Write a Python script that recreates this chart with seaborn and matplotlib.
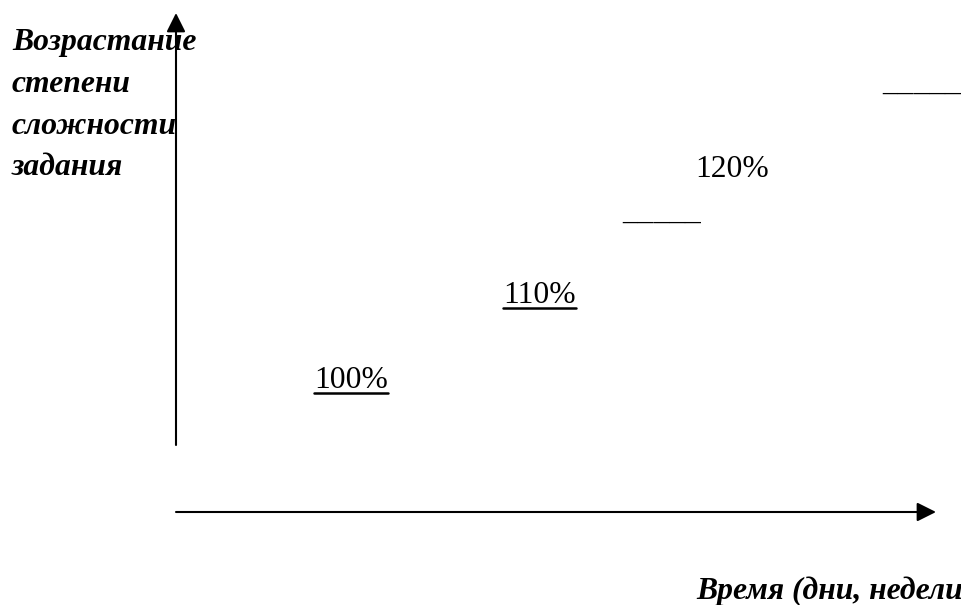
import matplotlib
matplotlib.use("Agg")
import matplotlib.pyplot as plt
import pandas as pd
import seaborn as sns

# labels of the difficulty steps (pixel positions, top-left origin)
levels = ["100%", "110%", "120%"]
level_left = [314, 503, 695]
level_base = [388, 303, 177]
level_underlined = [True, True, False]

# free "_____" blanks
blank_left = [622, 882]
blank_base = [219, 90]

y_title = ["Возрастание", "степени", "сложности", "задания"]
y_title_base = [50, 92, 134, 175]
x_title = "Время (дни, недели"

sns.set_theme(style="white")
plt.rcParams['font.family'] = ['Liberation Serif', 'DejaVu Serif']
plt.rcParams['text.color'] = 'black'

fig = plt.figure(figsize=(9.62, 6.05), dpi=100)
ax = fig.add_axes([0, 0, 1, 1])
ax.set_xlim(0, 962)
ax.set_ylim(605, 0)
ax.axis("off")

fs = 22.8

# axes arrows
arrow = dict(arrowstyle="-|>,head_length=0.8,head_width=0.4", mutation_scale=14.4,
             lw=1.5, color="black", shrinkA=0, shrinkB=0)
ax.annotate("", xy=(176, 13), xytext=(176, 445), arrowprops=arrow)
ax.annotate("", xy=(936, 512), xytext=(176, 512), arrowprops=arrow)

# axis titles
for line, base in zip(y_title, y_title_base):
    ax.text(12, base, line, fontsize=fs, fontweight="bold", fontstyle="italic",
            va="baseline", ha="left", color="black")
ax.text(696, 599, x_title, fontsize=fs, fontweight="bold", fontstyle="italic",
        va="baseline", ha="left", color="black")

# step labels
texts = []
for lab, x, y in zip(levels, level_left, level_base):
    texts.append(ax.text(x, y, lab, fontsize=fs, va="baseline", ha="left", color="black"))
for x, y in zip(blank_left, blank_base):
    ax.text(x, y, "_____", fontsize=fs, va="baseline", ha="left", color="black")

# underlines under the labels
fig.canvas.draw()
renderer = fig.canvas.get_renderer()
rows = []
inv = ax.transData.inverted()
for i, (t, under) in enumerate(zip(texts, level_underlined)):
    if not under:
        continue
    bb = t.get_window_extent(renderer)
    x0 = inv.transform((bb.x0, 0))[0]
    x1 = inv.transform((bb.x1, 0))[0]
    y = level_base[i] + 4.5
    rows.append({"seg": i, "x": x0, "y": y})
    rows.append({"seg": i, "x": x1, "y": y})
under_df = pd.DataFrame(rows)
sns.lineplot(data=under_df, x="x", y="y", units="seg", estimator=None,
             color="black", lw=1.8, ax=ax, legend=False)
ax.set_xlim(0, 962)
ax.set_ylim(605, 0)
ax.axis("off")

fig.savefig("out.png", dpi=100)
